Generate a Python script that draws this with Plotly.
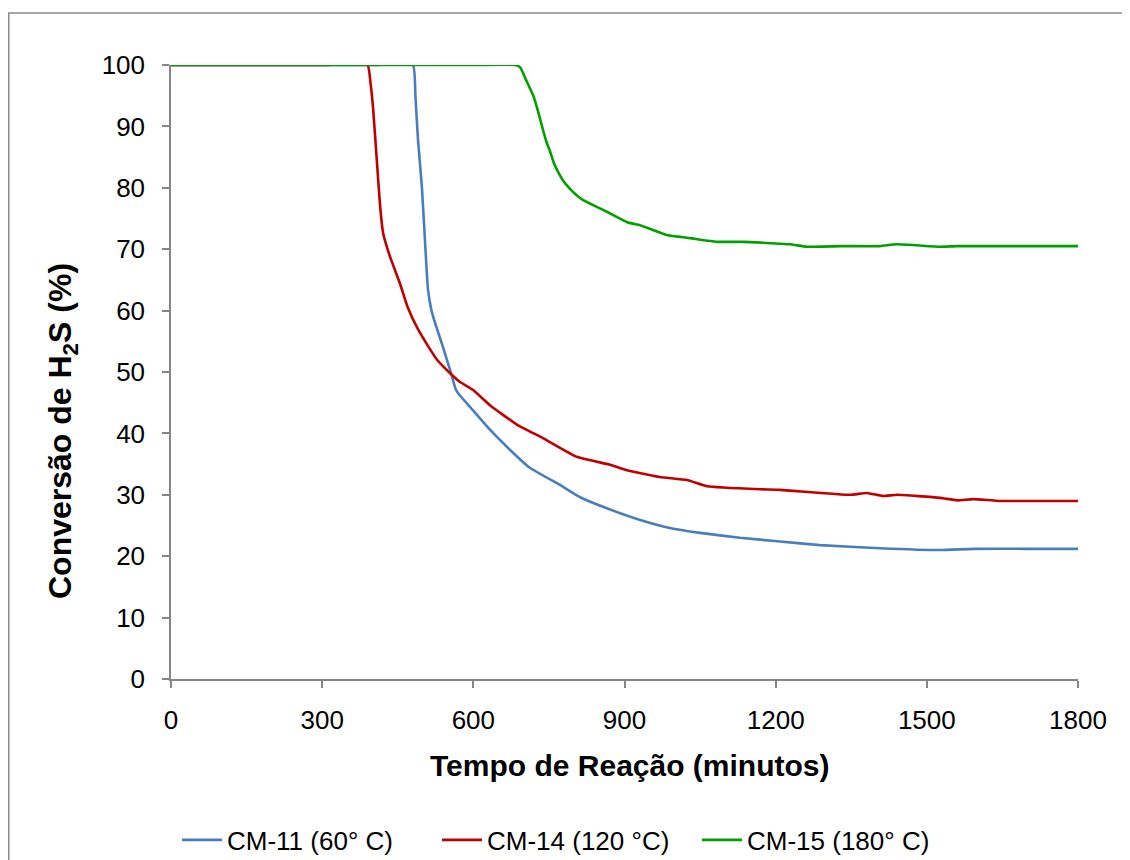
import plotly.graph_objects as go

# CM-11 (60 °C)
t_cm11 = [0, 100, 200, 300, 400, 480, 485, 490, 498, 505, 510, 517, 524, 540, 554, 565, 573, 599, 633, 673,
          712, 772, 812, 865, 931, 990, 1050, 1129, 1209, 1288, 1407, 1526, 1592, 1700, 1800]
v_cm11 = [100, 100, 100, 100, 100, 100, 95, 88, 80, 70, 63.4, 60, 58, 54, 50.3, 47.2, 46.2, 43.8, 40.6, 37.3,
          34.4, 31.6, 29.6, 27.8, 25.9, 24.6, 23.8, 23.0, 22.4, 21.8, 21.3, 21.0, 21.2, 21.2, 21.2]

# CM-14 (120 °C)
t_cm14 = [0, 100, 200, 300, 390, 396, 401, 408, 415, 421, 435, 454, 470, 488, 508, 528, 554, 573, 599, 633,
          687, 739, 805, 871, 905, 970, 1024, 1064, 1169, 1209, 1348, 1381, 1413, 1441, 1526, 1560, 1592, 1645, 1800]
v_cm14 = [100, 100, 100, 100, 100, 97, 93, 85, 77, 72.6, 68.7, 64.5, 60.5, 57.3, 54.5, 52, 49.8, 48.4, 47.1, 44.6,
          41.4, 39.2, 36.2, 34.9, 34.0, 32.9, 32.4, 31.4, 30.9, 30.8, 30.0, 30.3, 29.8, 30.0, 29.5, 29.1, 29.3, 29.0, 29.0]

# CM-15 (180 °C)
t_cm15 = [0, 100, 200, 300, 400, 500, 600, 683, 693, 705, 719, 730, 738, 745, 752, 760, 770, 778, 790, 805, 818,
          865, 905, 931, 984, 1030, 1083, 1135, 1228, 1262, 1328, 1407, 1440, 1526, 1560, 1700, 1800]
v_cm15 = [100, 100, 100, 100, 100, 100, 100, 100, 99.6, 97.5, 95, 92, 89.5, 87.5, 86, 84, 82.3, 81.2, 80, 78.8, 78,
          76.1, 74.4, 73.9, 72.3, 71.8, 71.2, 71.2, 70.8, 70.4, 70.5, 70.5, 70.8, 70.4, 70.5, 70.5, 70.5]

names = ["CM-11 (60° C)", "CM-14 (120 °C)", "CM-15 (180° C)"]
colors = ["#4A7EBB", "#C00000", "#00A000"]

x_ticks = [0, 300, 600, 900, 1200, 1500, 1800]
y_ticks = [0, 10, 20, 30, 40, 50, 60, 70, 80, 90, 100]

x_title = "<b>Tempo de Reação (minutos)</b>"
y_title = "<b>Conversão de H<sub>2</sub>S (%)</b>"

fig = go.Figure()
for t, v, n, c in zip([t_cm11, t_cm14, t_cm15], [v_cm11, v_cm14, v_cm15], names, colors):
    fig.add_trace(go.Scatter(x=t, y=v, mode="lines", name=n,
                             line=dict(color=c, width=2.6, shape="spline", smoothing=0.4)))

font_family = "Liberation Sans, Arial, sans-serif"
axis_color = "#868686"

# page body has an 8px margin: figure occupies 1122x852 of the 1130x860 window
W, H = 1122, 852
L, T = 163, 57
R = W - 1070
B = H - 671
PW, PH = W - L - R, H - T - B

def px_x(page_x):
    return (page_x - 8 - L) / PW

def px_y(page_y):
    return (H - B - (page_y - 8)) / PH

fig.update_layout(
    width=W, height=H,
    margin=dict(l=L, r=R, t=T, b=B),
    plot_bgcolor="white", paper_bgcolor="white",
    font=dict(family=font_family, color="black"),
    showlegend=True,
    legend=dict(orientation="h", xref="container", yref="container",
                x=(183 - 8 - 6) / W, y=1 - (840 - 8) / H, xanchor="left", yanchor="middle",
                font=dict(size=26, family=font_family), itemwidth=40, tracegroupgap=0,
                entrywidth=205, entrywidthmode="pixels",
                bgcolor="rgba(0,0,0,0)"),
    xaxis=dict(range=[0, 1800], tickvals=x_ticks, ticktext=[str(v) for v in x_ticks],
               showgrid=False, zeroline=False, showline=True, linecolor=axis_color, linewidth=1.5,
               ticks="outside", ticklen=7, tickcolor=axis_color, tickwidth=1.5,
               tickfont=dict(size=26), ticklabelstandoff=10, automargin=False),
    yaxis=dict(range=[0, 100], tickvals=y_ticks, ticktext=[str(v) for v in y_ticks],
               showgrid=False, zeroline=False, showline=True, linecolor=axis_color, linewidth=1.5,
               ticks="outside", ticklen=7, tickcolor=axis_color, tickwidth=1.5,
               tickfont=dict(size=26), ticklabelstandoff=12, automargin=False),
)

# axis titles
fig.add_annotation(text=x_title, xref="paper", yref="paper", x=px_x(630), y=px_y(765),
                   xanchor="center", yanchor="middle", showarrow=False, font=dict(size=30))
fig.add_annotation(text=y_title, xref="paper", yref="paper", x=px_x(62), y=px_y(431),
                   xanchor="center", yanchor="middle", showarrow=False, textangle=-90,
                   font=dict(size=32))

# chart-area border
fig.add_shape(type="rect", xref="paper", yref="paper",
              x0=px_x(8.75), x1=1.2, y0=-0.5, y1=px_y(13),
              line=dict(color="#8A8A8A", width=1.5), fillcolor="rgba(0,0,0,0)", layer="below")

fig.write_html("out.html")
